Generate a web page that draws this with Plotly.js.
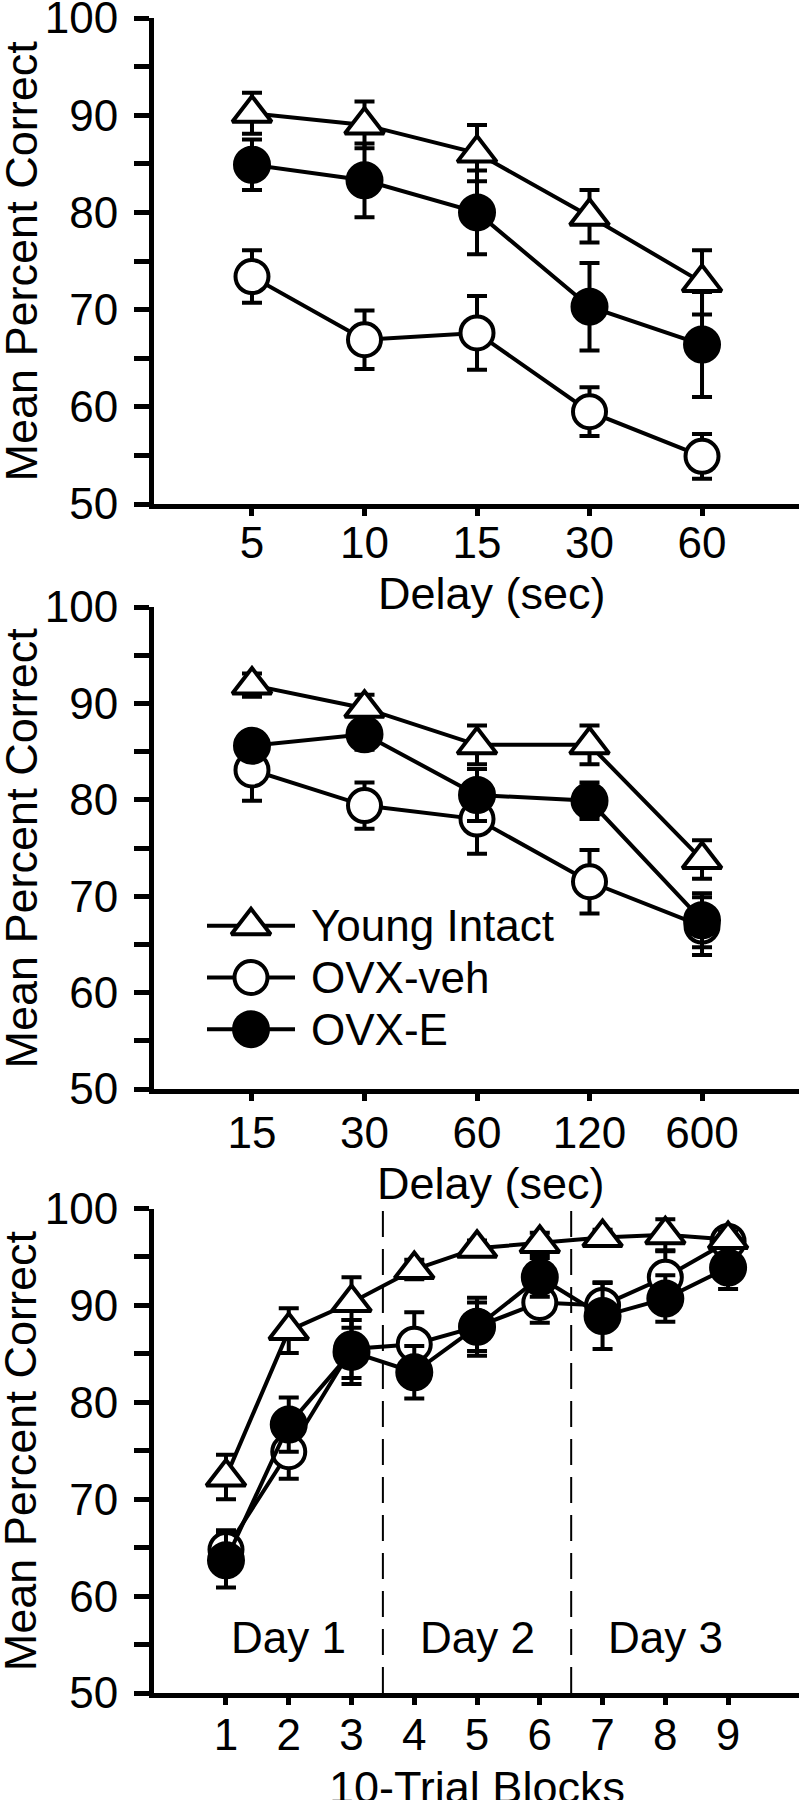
<!DOCTYPE html>
<html><head><meta charset="utf-8">
<script src="https://cdn.plot.ly/plotly-3.0.1.min.js"></script>
<style>html,body{margin:0;padding:0;background:#fff}</style>
</head><body><div id="chart" style="width:799px;height:1800px"></div>
<script>
// ---------------- DATA ----------------
const seriesNames = ['Young Intact', 'OVX-veh', 'OVX-E'];

// Panel A: delay (sec), categories
const delaysA = ['5', '10', '15', '30', '60'];
const youngA = [90.2, 89.0, 86.1, 79.6, 72.8];
const youngAErr = [2.1, 2.4, 2.9, 2.7, 3.3];
const vehA = [73.4, 66.9, 67.6, 59.5, 54.9];
const vehAErr = [2.7, 3.0, 3.8, 2.5, 2.3];
const estA = [84.9, 83.3, 80.0, 70.3, 66.4];
const estAErr = [2.6, 3.8, 4.3, 4.5, 5.4];

// Panel B: delay (sec), categories
const delaysB = ['15', '30', '60', '120', '600'];
const youngB = [91.9, 89.5, 85.7, 85.7, 73.8];
const youngBErr = [1.2, 1.4, 2.0, 2.0, 2.0];
const vehB = [83.1, 79.4, 78.0, 71.5, 66.9];
const vehBErr = [3.2, 2.4, 3.6, 3.3, 3.0];
const estB = [85.6, 86.8, 80.5, 79.9, 67.5];
const estBErr = [1.0, 1.6, 2.7, 1.9, 2.8];

// Panel C: 10-trial blocks
const blocksC = [1, 2, 3, 4, 5, 6, 7, 8, 9];
const youngC = [72.3, 87.4, 90.3, 93.7, 95.9, 96.4, 97.0, 97.3, 96.8];
const youngCErr = [2.3, 2.3, 2.6, 1.0, 0.8, 1.1, 0.8, 1.6, 0.8];
const vehC = [64.8, 74.9, 85.5, 86.0, 87.8, 90.3, 90.0, 92.9, 96.6];
const vehCErr = [2.0, 2.8, 3.0, 3.3, 2.5, 2.1, 2.4, 2.7, 1.0];
const estC = [63.7, 77.7, 85.2, 83.1, 87.8, 92.9, 88.9, 90.7, 93.9];
const estCErr = [2.8, 2.8, 3.3, 2.7, 3.0, 2.0, 3.4, 2.4, 2.2];

const dayBoundaries = [3.5, 6.5];
const dayLabels = ['Day 1', 'Day 2', 'Day 3'];
const dayLabelBlocks = [2, 5, 8];

const yTickVals = [50, 55, 60, 65, 70, 75, 80, 85, 90, 95, 100];
const yTickText = ['50', '', '60', '', '70', '', '80', '', '90', '', '100'];

const yTitle = 'Mean Percent Correct';
const xTitleDelay = 'Delay (sec)';
const xTitleBlocks = '10-Trial Blocks';

// ---------------- STYLE ----------------
const FONT = 'Liberation Sans, Arial, Helvetica, sans-serif';
const W = 799, H = 1800, ML = 154, PW = W - ML;
const LW = 4;
const styles = [
  {symbol: 'triangle-up', size: 34, fill: '#ffffff'},
  {symbol: 'circle', size: 33, fill: '#ffffff'},
  {symbol: 'circle', size: 34, fill: '#000000'}
];
function dom(topPx, bottomPx) { return [1 - bottomPx / H, 1 - topPx / H]; }

// draw order: OVX-veh, OVX-E, Young Intact (young on top)
const order = [1, 2, 0];
const panels = [
  {x: delaysA, ys: [youngA, vehA, estA], es: [youngAErr, vehAErr, estAErr], xa: 'x', ya: 'y'},
  {x: delaysB, ys: [youngB, vehB, estB], es: [youngBErr, vehBErr, estBErr], xa: 'x2', ya: 'y2'},
  {x: blocksC, ys: [youngC, vehC, estC], es: [youngCErr, vehCErr, estCErr], xa: 'x3', ya: 'y3'}
];

const traces = [];
panels.forEach(p => {
  order.forEach(i => {
    const s = styles[i];
    traces.push({
      type: 'scatter', mode: 'lines+markers', name: seriesNames[i], showlegend: false,
      x: p.x, y: p.ys[i], xaxis: p.xa, yaxis: p.ya,
      line: {color: '#000', width: LW},
      marker: {symbol: s.symbol, size: s.size, color: s.fill, line: {color: '#000', width: LW}},
      error_y: {type: 'data', array: p.es[i], visible: true, color: '#000', thickness: LW, width: 10},
      cliponaxis: false, hoverinfo: 'skip'
    });
  });
});

// legend keys, drawn in their own small hidden subplot
seriesNames.forEach((nm, i) => {
  const s = styles[i];
  traces.push({
    type: 'scatter', mode: 'lines+markers', name: nm, showlegend: false,
    x: [0, 1, 2], y: [i, i, i], xaxis: 'x4', yaxis: 'y4',
    line: {color: '#000', width: LW},
    marker: {symbol: s.symbol, size: s.size, color: s.fill, opacity: [0, 1, 0],
             line: {color: '#000', width: LW}},
    cliponaxis: false, hoverinfo: 'skip'
  });
});

const tickFont = {family: FONT, size: 44, color: '#000'};
const titleFont = {family: FONT, size: 45, color: '#000'};

function yAxis(domain, anchor) {
  return {
    domain: domain, anchor: anchor, range: [50, 100],
    tickmode: 'array', tickvals: yTickVals, ticktext: yTickText,
    ticks: 'outside', ticklen: 15, tickwidth: 5, tickcolor: '#000',
    showline: true, linewidth: 5, linecolor: '#000', showgrid: false, zeroline: false,
    tickfont: tickFont, ticklabelstandoff: 7, ticklabeloverflow: 'allow',
    fixedrange: true
  };
}
function xAxis(anchor, range, labelStandoff, extra) {
  return Object.assign({
    anchor: anchor, domain: [0, 1], range: range,
    ticks: 'outside', ticklen: 7, tickwidth: 5, tickcolor: '#000',
    showline: true, linewidth: 5, linecolor: '#000', showgrid: false, zeroline: false,
    tickfont: tickFont, ticklabeloverflow: 'allow', ticklabelstandoff: labelStandoff,
    fixedrange: true
  }, extra || {});
}

// axis titles placed as annotations (exact placement, may sit partly off-canvas like the original)
const titleAnns = [
  {text: xTitleDelay, xref: 'x domain', x: 0.5, xshift: 15, yref: 'y domain', y: 0, yshift: -62},
  {text: xTitleDelay, xref: 'x2 domain', x: 0.5, xshift: 14, yref: 'y2 domain', y: 0, yshift: -67},
  {text: xTitleBlocks, xref: 'x3 domain', x: 0.5, xshift: 0, yref: 'paper', y: 0, yshift: 40}
].map(a => Object.assign(a, {xanchor: 'center', yanchor: 'top', showarrow: false, font: titleFont}))
 .concat(['y', 'y2', 'y3'].map(ya => ({
   text: yTitle, textangle: -90, xref: 'paper', x: -ML / PW, xanchor: 'left', xshift: -7,
   yref: ya + ' domain', y: 0.5, yanchor: 'middle', showarrow: false, font: titleFont
 })));

const layout = {
  width: W, height: H,
  margin: {l: ML, r: 0, t: 0, b: 0},
  paper_bgcolor: '#fff', plot_bgcolor: 'rgba(0,0,0,0)',
  showlegend: false,
  font: {family: FONT, color: '#000'},
  xaxis: xAxis('y', [-0.871, 4.862], -11, {type: 'category'}),
  yaxis: yAxis(dom(18, 504), 'x'),
  xaxis2: xAxis('y2', [-0.871, 4.862], -6, {type: 'category'}),
  yaxis2: yAxis(dom(607, 1089), 'x2'),
  xaxis3: xAxis('y3', [-0.147, 10.13], -8, {tickmode: 'array', tickvals: blocksC}),
  yaxis3: yAxis(dom(1208.5, 1693), 'x3'),
  xaxis4: {domain: [(207 - ML) / PW, (295 - ML) / PW], range: [0, 2], visible: false, anchor: 'y4', fixedrange: true},
  yaxis4: {domain: dom(900, 1055), range: [2.5, -0.5], visible: false, anchor: 'x4', fixedrange: true},
  shapes: dayBoundaries.map(b => ({
    type: 'line', xref: 'x3', yref: 'y3 domain', x0: b, x1: b, y0: 0, y1: 1,
    line: {color: '#000', width: 2, dash: '26px,12px'}, layer: 'below'
  })),
  annotations: dayLabels.map((t, i) => ({
    text: t, x: dayLabelBlocks[i], y: 55.7, xref: 'x3', yref: 'y3',
    showarrow: false, font: {family: FONT, size: 44, color: '#000'}
  })).concat(seriesNames.map((nm, i) => ({
    text: nm, x: 2, y: i, xref: 'x4', yref: 'y4', xanchor: 'left', xshift: 14,
    showarrow: false, font: {family: FONT, size: 44, color: '#000'}
  }))).concat(titleAnns)
};

Plotly.newPlot('chart', traces, layout, {staticPlot: true, displayModeBar: false});
</script>
</body></html>
